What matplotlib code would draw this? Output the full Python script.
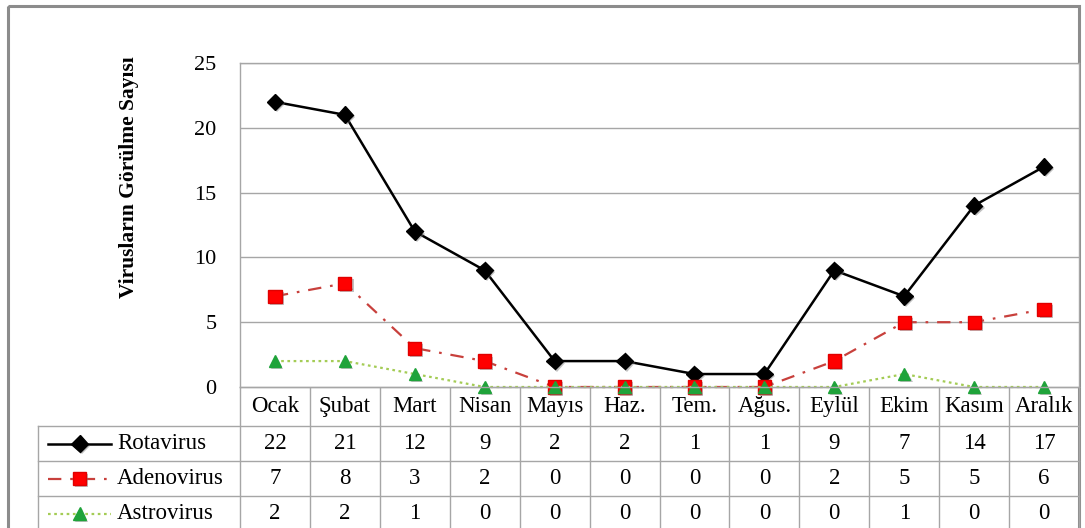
import matplotlib
matplotlib.use("Agg")
import matplotlib.pyplot as plt
import matplotlib.patheffects as pe
from matplotlib.transforms import blended_transform_factory
from matplotlib.patches import Rectangle

# ---- data -------------------------------------------------------------
months = ["Ocak", "Şubat", "Mart", "Nisan", "Mayıs", "Haz.", "Tem.",
          "Ağus.", "Eylül", "Ekim", "Kasım", "Aralık"]
rotavirus = [22, 21, 12, 9, 2, 2, 1, 1, 9, 7, 14, 17]
adenovirus = [7, 8, 3, 2, 0, 0, 0, 0, 2, 5, 5, 6]
astrovirus = [2, 2, 1, 0, 0, 0, 0, 0, 0, 1, 0, 0]
series_names = ["Rotavirus", "Adenovirus", "Astrovirus"]
y_ticks = [0, 5, 10, 15, 20, 25]
y_label = "Virusların Görülme Sayısı"

# ---- styling ----------------------------------------------------------
plt.rcParams["font.family"] = ["Liberation Serif", "DejaVu Serif"]
FS = 16.5
GRID = "#a6a6a6"
FRAME = "#8c8c8c"

styles = [
    dict(line=dict(color="black", lw=1.8, ls="-"),
         mark=dict(marker="D", ms=8.5, mfc="black", mec="black")),
    dict(line=dict(color="#C8403C", lw=1.6, ls=(0, (6, 4, 1.2, 4))),
         mark=dict(marker="s", ms=9.5, mfc="#FF0000", mec="#E00000")),
    dict(line=dict(color="#A4CC55", lw=1.6, ls=(0, (1.2, 1.6))),
         mark=dict(marker="^", ms=9, mfc="#1FA33A", mec="#1FA33A")),
]
shadow = [pe.SimplePatchShadow(offset=(1.5, -1.5), shadow_rgbFace="#777777",
                               alpha=0.45), pe.Normal()]

W, H = 1085, 528
fig = plt.figure(figsize=(W / 100, H / 100), dpi=100)
fig.patch.set_facecolor("white")

# pixel-space overlay used for the frame and the data table
ov = fig.add_axes([0, 0, 1, 1], zorder=0)
ov.set_xlim(0, W)
ov.set_ylim(H, 0)
ov.axis("off")

# plot area
L, R, T, B = 240, 1079, 63, 387
ax = fig.add_axes([L / W, 1 - B / H, (R - L) / W, (B - T) / H], zorder=2)
ax.set_facecolor("white")
ax.set_xlim(-0.5, len(months) - 0.5)
ax.set_ylim(0, 25)
ax.set_yticks(y_ticks)
ax.set_xticks([])
ax.tick_params(axis="y", length=0, pad=17, labelsize=16)
for s in ax.spines.values():
    s.set_color(GRID)
    s.set_linewidth(1.0)
ax.yaxis.grid(True, color=GRID, lw=1.0)
ax.set_axisbelow(True)

x = list(range(len(months)))
for vals, st in zip([rotavirus, adenovirus, astrovirus], styles):
    ax.plot(x, vals, clip_on=False, **st["line"])
    ax.plot(x, vals, ls="none", clip_on=False, path_effects=shadow, **st["mark"])

# y-axis title
ov.text(129, 177, y_label, rotation=90, ha="center", va="center",
        fontsize=15.5, fontweight="bold")

# outer frame
ov.add_patch(Rectangle((8, 6), 1071, 540, fill=False, ec=FRAME, lw=2.2,
                       clip_on=False))

# ---- data table -------------------------------------------------------
bt = blended_transform_factory(ax.transData, ov.transData)
rows_y = [387, 426, 461, 496, 531]
left_col = 38
# horizontal rules
ov.plot([L, R], [rows_y[0]] * 2, color=GRID, lw=1.0)
for yy in rows_y[1:4]:
    ov.plot([left_col, R], [yy, yy], color=GRID, lw=1.0)
# vertical rules
ov.plot([left_col, left_col], [rows_y[1], H + 5], color=GRID, lw=1.0,
        clip_on=False)
for i in range(len(months) + 1):
    ov.plot([i - 0.5, i - 0.5], [rows_y[0], H + 5], color=GRID, lw=1.0,
            transform=bt, clip_on=False)

centers = [(rows_y[k] + rows_y[k + 1]) / 2 for k in range(4)]
for i, m in enumerate(months):
    ov.text(i, centers[0], m, transform=bt, ha="center", va="center",
            fontsize=FS)
for r, vals in enumerate([rotavirus, adenovirus, astrovirus]):
    yc = centers[r + 1]
    for i, v in enumerate(vals):
        ov.text(i, yc, str(v), transform=bt, ha="center", va="center",
                fontsize=FS)
    st = styles[r]
    ov.plot([48, 111], [yc, yc], **st["line"])
    ov.plot([79.5], [yc], ls="none", path_effects=shadow, **st["mark"])
    ov.text(117, yc, series_names[r], ha="left", va="center", fontsize=FS)

fig.savefig("out.png", dpi=100, facecolor="white")
